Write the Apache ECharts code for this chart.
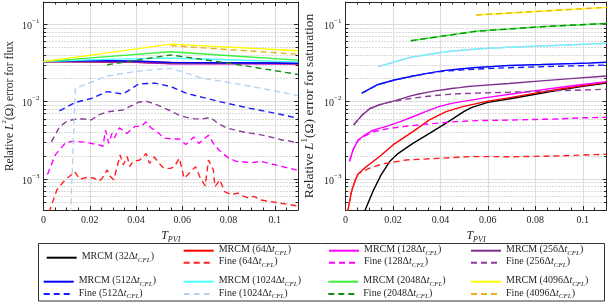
<!DOCTYPE html>
<html><head><meta charset="utf-8">
<script src="https://cdn.jsdelivr.net/npm/echarts@6/dist/echarts.min.js"></script>
<style>html,body{margin:0;padding:0;background:#fff}#c{width:608px;height:306px}</style>
</head><body><div id="c"></div>
<script>
// ---------- data ----------
const steps = [32, 64, 128, 256, 512, 1024, 2048, 4096];
const xTickValues = [0, 0.02, 0.04, 0.06, 0.08, 0.1];

// Left: relative L2 error for flux  ([T_PVI, error])
const fluxMrcm32 = [[0,0.033],[0.02,0.0328],[0.04,0.0324],[0.06,0.0318],[0.08,0.0316],[0.11,0.0311]];
const fluxMrcm64 = [[0,0.033],[0.02,0.033],[0.04,0.0323],[0.06,0.0316],[0.08,0.0315],[0.11,0.031]];
const fluxMrcm128 = [[0,0.033],[0.02,0.0332],[0.04,0.0322],[0.055,0.0308],[0.08,0.031],[0.11,0.0308]];
const fluxMrcm256 = [[0,0.033],[0.02,0.0335],[0.04,0.0326],[0.055,0.0312],[0.08,0.0314],[0.11,0.0311]];
const fluxMrcm512 = [[0,0.033],[0.02,0.034],[0.04,0.0335],[0.055,0.0322],[0.08,0.0318],[0.11,0.0314]];
const fluxMrcm1024 = [[0,0.033],[0.01375,0.0342],[0.0275,0.0352],[0.04125,0.036],[0.055,0.0366],[0.06875,0.0356],[0.0825,0.0346],[0.09625,0.0336],[0.11,0.0327]];
const fluxMrcm2048 = [[0,0.033],[0.0275,0.0382],[0.055,0.0442],[0.0825,0.039],[0.11,0.0345]];
const fluxMrcm4096 = [[0,0.033],[0.055,0.0555],[0.11,0.0455]];

const fluxFine64 = [[0.0009,0.00028],[0.0058,0.00073],[0.0093,0.00098],[0.0121,0.00114],[0.0135,0.00125],[0.0156,0.0010],[0.0191,0.00106],[0.0219,0.00103],[0.024,0.00094],[0.0254,0.00103],[0.0275,0.00132],[0.0289,0.00108],[0.0303,0.00098],[0.0317,0.00139],[0.0331,0.00206],[0.0345,0.00153],[0.0362,0.00196],[0.0373,0.00146],[0.0387,0.00169],[0.0416,0.00177],[0.0444,0.00214],[0.0458,0.0016],[0.0479,0.00194],[0.05,0.0016],[0.0521,0.00138],[0.0549,0.00138],[0.0566,0.00145],[0.0587,0.00187],[0.0608,0.00103],[0.0629,0.00118],[0.0657,0.00145],[0.0678,0.00103],[0.0699,0.00082],[0.0713,0.00177],[0.0734,0.00132],[0.0741,0.0008],[0.0762,0.00098],[0.0783,0.00069],[0.0811,0.00063],[0.084,0.00066],[0.0867,0.0006],[0.0888,0.00057],[0.0909,0.0006],[0.0938,0.00054],[0.11,0.00045]];
const fluxFine128 = [[0.0017,0.00115],[0.0051,0.00206],[0.0093,0.0029],[0.0121,0.00308],[0.0138,0.00308],[0.0177,0.00301],[0.024,0.00277],[0.0257,0.00266],[0.0268,0.0043],[0.0282,0.0029],[0.0296,0.0039],[0.0306,0.0034],[0.0328,0.0046],[0.036,0.0039],[0.0395,0.0048],[0.042,0.0048],[0.0444,0.0055],[0.0465,0.0046],[0.05,0.0039],[0.0517,0.0034],[0.0559,0.0033],[0.0587,0.0033],[0.0615,0.0028],[0.065,0.0035],[0.0671,0.0029],[0.0713,0.0037],[0.0734,0.0029],[0.0757,0.0024],[0.0797,0.0019],[0.0832,0.0017],[0.0867,0.00167],[0.0896,0.00163],[0.0938,0.0017],[0.11,0.0013]];
const fluxFine256 = [[0.0034,0.00303],[0.0069,0.00473],[0.0103,0.00565],[0.0138,0.00594],[0.0172,0.006],[0.0206,0.00582],[0.0241,0.0068],[0.0275,0.0074],[0.0309,0.0076],[0.0344,0.00783],[0.0378,0.00883],[0.0413,0.00993],[0.0447,0.0101],[0.0481,0.00937],[0.0516,0.00844],[0.055,0.0076],[0.0584,0.00676],[0.0619,0.00627],[0.0653,0.006],[0.0688,0.006],[0.0722,0.00627],[0.0756,0.00518],[0.0791,0.00459],[0.0825,0.00433],[0.0859,0.0041],[0.0894,0.00393],[0.0928,0.0038],[0.0963,0.00362],[0.0997,0.00342],[0.1031,0.00321],[0.1066,0.0031],[0.11,0.00294]];
const fluxFine512 = [[0.006875,0.0076],[0.01375,0.0098],[0.020625,0.011],[0.0275,0.0135],[0.034375,0.0126],[0.04125,0.017],[0.048125,0.0174],[0.055,0.0157],[0.061875,0.0128],[0.06875,0.0114],[0.075625,0.0101],[0.0825,0.0091],[0.089375,0.0082],[0.09625,0.0075],[0.103125,0.0068],[0.11,0.0061]];
const fluxFine1024 = [[0.0098,0.00001],[0.01375,0.0149],[0.0275,0.0215],[0.04125,0.0249],[0.055,0.027],[0.06875,0.0201],[0.0825,0.0173],[0.09625,0.0145],[0.11,0.012]];
const fluxFine2048 = [[0.0275,0.03],[0.055,0.0402],[0.0825,0.0307],[0.11,0.0225]];
const fluxFine4096 = [[0.055,0.053],[0.11,0.041]];

// Right: relative L1 error for saturation
const satMrcm32 = [[0.0075,0.00035],[0.0115,0.00069],[0.015,0.00114],[0.0186,0.00169],[0.0221,0.00214],[0.0284,0.0029],[0.0354,0.0039],[0.0424,0.0053],[0.05,0.0075],[0.053,0.0084],[0.06,0.0098],[0.07,0.011],[0.08,0.0125],[0.09,0.0141],[0.1,0.0158],[0.11,0.0174]];
const satMrcm64 = [[0.0007,0.00035],[0.0025,0.00069],[0.0039,0.00093],[0.0053,0.00117],[0.0088,0.00146],[0.0144,0.00196],[0.02,0.00277],[0.0284,0.00411],[0.0354,0.00582],[0.0424,0.00745],[0.0494,0.00865],[0.06,0.0102],[0.07,0.0114],[0.08,0.0129],[0.09,0.0145],[0.1,0.0162],[0.11,0.0178]];
const satMrcm128 = [[0.0017,0.0017],[0.0032,0.0024],[0.0053,0.0032],[0.0081,0.0037],[0.0116,0.0043],[0.0172,0.0048],[0.0228,0.0055],[0.0284,0.0064],[0.034,0.0075],[0.0396,0.0087],[0.0452,0.0096],[0.0529,0.0105],[0.06,0.0114],[0.07,0.0126],[0.08,0.0139],[0.09,0.0153],[0.1,0.0167],[0.11,0.0182]];
const satMrcm256 = [[0.0034,0.005],[0.0069,0.00666],[0.0103,0.00818],[0.0137,0.009],[0.0172,0.00965],[0.0206,0.01024],[0.0241,0.01103],[0.0275,0.0119],[0.0309,0.0126],[0.0344,0.0132],[0.0378,0.0138],[0.0413,0.0143],[0.0447,0.0148],[0.0481,0.0152],[0.0516,0.0157],[0.055,0.016],[0.0688,0.0172],[0.0825,0.0186],[0.0963,0.02],[0.11,0.0215]];
const satMrcm512 = [[0.006875,0.0129],[0.01375,0.0167],[0.020625,0.0191],[0.0275,0.0212],[0.034375,0.0232],[0.04125,0.0252],[0.048125,0.0265],[0.055,0.0277],[0.061875,0.0285],[0.06875,0.0294],[0.075625,0.0298],[0.0825,0.0302],[0.089375,0.0307],[0.09625,0.0311],[0.103125,0.0316],[0.11,0.0323]];
const satMrcm1024 = [[0.01375,0.0284],[0.0275,0.0375],[0.04125,0.0439],[0.055,0.048],[0.06875,0.0505],[0.0825,0.0525],[0.09625,0.0545],[0.11,0.0569]];
const satMrcm2048 = [[0.0275,0.0614],[0.055,0.0812],[0.0825,0.093],[0.11,0.1024]];
const satMrcm4096 = [[0.055,0.132],[0.11,0.1655]];

const satFine64 = [[0.0007,0.00035],[0.0025,0.00069],[0.0039,0.00093],[0.0053,0.00117],[0.0102,0.00139],[0.0158,0.00158],[0.0256,0.00177],[0.0396,0.00186],[0.0529,0.00196],[0.07,0.00195],[0.08,0.00197],[0.09,0.002],[0.1,0.00205],[0.11,0.0021]];
const satFine128 = [[0.0017,0.0017],[0.0032,0.0024],[0.0053,0.0032],[0.0081,0.0036],[0.0116,0.0041],[0.018,0.0045],[0.025,0.0048],[0.033,0.0051],[0.045,0.0055],[0.055,0.0057],[0.07,0.0058],[0.08,0.0059],[0.09,0.006],[0.1,0.0062],[0.11,0.0063]];
const satFine256 = [[0.0034,0.005],[0.0069,0.00666],[0.0103,0.00818],[0.0137,0.009],[0.0172,0.00965],[0.0206,0.0101],[0.0241,0.0106],[0.0275,0.011],[0.034,0.0117],[0.041,0.0123],[0.048,0.0127],[0.055,0.0129],[0.07,0.0133],[0.08,0.0136],[0.09,0.0139],[0.1,0.0142],[0.11,0.0145]];
const satFine512 = [[0.006875,0.0129],[0.01375,0.0167],[0.020625,0.0191],[0.0275,0.0212],[0.034375,0.0231],[0.04125,0.0248],[0.048125,0.0256],[0.055,0.0264],[0.061875,0.027],[0.06875,0.0275],[0.075625,0.0279],[0.0825,0.0283],[0.089375,0.0287],[0.09625,0.029],[0.103125,0.0294],[0.11,0.0298]];
const satFine1024 = [[0.01375,0.0284],[0.0275,0.0375],[0.04125,0.0439],[0.055,0.048],[0.06875,0.0505],[0.0825,0.0525],[0.09625,0.0545],[0.11,0.0569]];
const satFine2048 = [[0.0275,0.0614],[0.055,0.0812],[0.0825,0.093],[0.11,0.1024]];
const satFine4096 = [[0.055,0.132],[0.11,0.1655]];

// ---------- style ----------
const mrcmColors = ['#000000','#ff0000','#ff00ff','#7e2f8e','#0000ff','#4dffff','#3cf03c','#ffff00'];
const fineColors = [null,'#ff2020','#ff00ff','#8a3d9a','#1a1aff','#b5d2f2','#178c17','#edb120'];
const SERIF = 'Liberation Serif';
const TXT = '#262626';

const fluxMrcm = [fluxMrcm32,fluxMrcm64,fluxMrcm128,fluxMrcm256,fluxMrcm512,fluxMrcm1024,fluxMrcm2048,fluxMrcm4096];
const fluxFine = [null,fluxFine64,fluxFine128,fluxFine256,fluxFine512,fluxFine1024,fluxFine2048,fluxFine4096];
const satMrcm = [satMrcm32,satMrcm64,satMrcm128,satMrcm256,satMrcm512,satMrcm1024,satMrcm2048,satMrcm4096];
const satFine = [null,satFine64,satFine128,satFine256,satFine512,satFine1024,satFine2048,satFine4096];

const mrcmName = s => 'MRCM (' + s + 'Δt_CFL)';
const fineName = s => 'Fine (' + s + 'Δt_CFL)';

function line(name, data, color, dashed, axisIdx) {
  return {
    type: 'line', name, data, xAxisIndex: axisIdx, yAxisIndex: axisIdx,
    symbol: 'none', showSymbol: false, clip: true, animation: false,
    lineStyle: { color, width: 1.4, type: dashed ? [6, 4] : 'solid' },
    itemStyle: { color }, emphasis: { disabled: true }
  };
}

const series = [];
[[fluxMrcm, fluxFine, 0], [satMrcm, satFine, 2]].forEach(([M, F, ai]) => {
  steps.forEach((s, i) => {
    series.push(line(mrcmName(s), M[i], mrcmColors[i], false, ai));
    if (F[i]) series.push(line(fineName(s), F[i], fineColors[i], true, ai));
  });
});

const supRich = {
  b: { fontFamily: SERIF, fontSize: 10, color: TXT, lineHeight: 14, verticalAlign: 'bottom' },
  e: { fontFamily: SERIF, fontSize: 7, color: TXT, lineHeight: 8, verticalAlign: 'top' }
};
function logLabel(v) {
  const e = Math.log10(v);
  if (Math.abs(e - Math.round(e)) > 1e-6) return '';
  const r = Math.round(e);
  return '{b|10}{e|' + (r < 0 ? '−' + (-r) : r) + '}';
}

function xAxes(gi) {
  const common = {
    gridIndex: gi, type: 'value', min: 0, max: 0.11, interval: 0.02,
    axisLine: { show: true, onZero: false, lineStyle: { color: TXT, width: 1 } },
    axisTick: { show: true, inside: true, length: 4, lineStyle: { color: TXT } },
    minorTick: { show: true, splitNumber: 4, length: 2.5, lineStyle: { color: TXT } }
  };
  return [
    Object.assign({}, common, {
      position: 'bottom',
      axisLabel: { show: true, margin: 5, showMaxLabel: false, color: TXT, fontFamily: SERIF, fontSize: 10,
        formatter: v => v === 0 ? '0' : (Math.abs(v - 0.1) < 1e-9 ? '0.1' : v.toFixed(2)) },
      splitLine: { show: true, lineStyle: { color: '#dcdcdc', width: 1 } },
      name: '{t|T}{s|PVI}', nameLocation: 'middle', nameGap: 15,
      nameTextStyle: { rich: {
        t: { fontFamily: SERIF, fontSize: 12, fontStyle: 'italic', color: TXT, lineHeight: 14, verticalAlign: 'top' },
        s: { fontFamily: SERIF, fontSize: 8, fontStyle: 'italic', color: TXT, lineHeight: 9, verticalAlign: 'bottom' } } }
    }),
    Object.assign({}, common, { position: 'top', axisLabel: { show: false }, splitLine: { show: false } })
  ];
}

function yAxes(gi, nameText, nameGap, fs) {
  const common = {
    gridIndex: gi, type: 'log', logBase: 10, min: 0.0004, max: 0.194,
    axisLine: { show: true, onZero: false, lineStyle: { color: TXT, width: 1 } },
    axisTick: { show: true, inside: true, length: 4, lineStyle: { color: TXT } },
    minorTick: { show: true, splitNumber: 9, length: 2.5, lineStyle: { color: TXT } }
  };
  return [
    Object.assign({}, common, {
      position: 'left',
      axisLabel: { show: true, margin: 4, showMinLabel: false, showMaxLabel: false, formatter: logLabel, rich: supRich },
      splitLine: { show: true, lineStyle: { color: '#dcdcdc', width: 1 } },
      minorSplitLine: { show: true, lineStyle: { color: '#a0a0a0', width: 0.8, type: [1, 2] } },
      name: nameText, nameLocation: 'middle', nameGap: nameGap, nameRotate: 90,
      nameTextStyle: { rich: {
        r: { fontFamily: SERIF, fontSize: fs, color: TXT, lineHeight: fs + 3, verticalAlign: 'bottom' },
        i: { fontFamily: SERIF, fontSize: fs, fontStyle: 'italic', color: TXT, lineHeight: fs + 3, verticalAlign: 'bottom' },
        u: { fontFamily: SERIF, fontSize: Math.round(fs * 0.65), color: TXT, lineHeight: Math.round(fs * 0.8), verticalAlign: 'top' } } }
    }),
    Object.assign({}, common, { position: 'right', axisLabel: { show: false }, splitLine: { show: false } })
  ];
}

// legend
const legendRich = {
  r: { fontFamily: SERIF, fontSize: 10, color: TXT, lineHeight: 12, verticalAlign: 'top' },
  i: { fontFamily: SERIF, fontSize: 10, fontStyle: 'italic', color: TXT, lineHeight: 12, verticalAlign: 'top' },
  s: { fontFamily: SERIF, fontSize: 7, fontStyle: 'italic', color: TXT, lineHeight: 8, verticalAlign: 'bottom' }
};
function legendFmt(name) {
  const m = name.match(/^(\w+) \((\d+)Δt_CFL\)$/);
  return '{r|' + m[1] + ' (' + m[2] + 'Δ}{i|t}{s|CFL}{r|)}';
}
const legendSlots = [
  [45.7, 257.7, null],
  [182.7, 250.7, 262.7], [328, 250.7, 262.7], [470, 250.7, 262.7],
  [42.7, 281.7, 294], [182.7, 281.7, 294], [327.3, 281.7, 294], [470, 281.7, 294]
];
const legends = [];
steps.forEach((s, i) => {
  const [lx, ym, yf] = legendSlots[i];
  const base = { left: lx, padding: 0, itemWidth: 30, itemHeight: 12, itemGap: 0, selectedMode: false,
    itemStyle: { opacity: 0 }, formatter: legendFmt, textStyle: { rich: legendRich } };
  legends.push(Object.assign({}, base, { data: [mrcmName(s)], top: ym - 6 }));
  if (yf !== null) legends.push(Object.assign({}, base, { data: [fineName(s)], top: yf - 6 }));
});

const chart = echarts.init(document.getElementById('c'), null, { renderer: 'canvas' });
chart.setOption({
  animation: false,
  backgroundColor: '#ffffff',
  grid: [
    { left: 37, top: 2, width: 261, height: 208 },
    { left: 345.5, top: 2, width: 261, height: 208 }
  ],
  xAxis: [...xAxes(0), ...xAxes(1)],
  yAxis: [...yAxes(0, '{r|Relative }{i|L}{u|2}{r|(Ω) error for flux}', 28, 11.5),
          ...yAxes(1, '{r|Relative }{i|L}{u|1}{r|(Ω) error for saturation}', 29, 13.5)],
  legend: legends,
  graphic: [{ type: 'rect', shape: { x: 38.5, y: 243.5, width: 566, height: 57.5 },
    style: { fill: 'none', stroke: '#333', lineWidth: 1 }, silent: true }],
  series
});
</script>
</body></html>
